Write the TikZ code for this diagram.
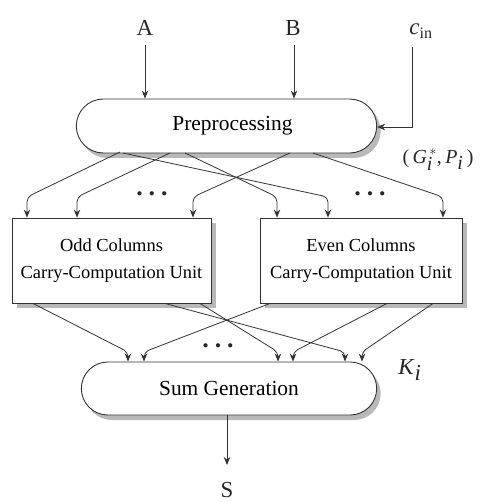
\documentclass[tikz,border=0pt]{standalone}
\usepackage{fontspec}
\setmainfont{Liberation Serif}
\usetikzlibrary{arrows.meta,shapes.misc,shadows}
\begin{document}
\begin{tikzpicture}[x=1bp,y=-1bp,
  pill/.style={rounded rectangle,draw=black!80,line width=0.9bp,fill=white,
    drop shadow={shadow xshift=4bp,shadow yshift=-5bp,fill=black!35,opacity=0.8}},
  unitbox/.style={rectangle,draw=black!80,line width=0.9bp,fill=white,align=center,
    drop shadow={shadow xshift=5bp,shadow yshift=-5bp,fill=black!35,opacity=0.8},
    font=\fontsize{18.5}{27}\selectfont},
  arr/.style={draw=black!80,line width=0.8bp,-{Stealth[length=8bp,width=6.5bp]}},
  bentarr/.style={arr,rounded corners=5bp},
  lbl/.style={text=black!85,inner sep=0pt},
  dotsl/.style={text=black!85,inner sep=0pt,font=\bfseries\fontsize{26}{26}\selectfont}]
\useasboundingbox (0,0) rectangle (486,502);

% main blocks
\node[pill,minimum width=307bp,minimum height=54bp,font=\fontsize{21.5}{24}\selectfont]
  (pre) at (226.5,126) {\hspace{12bp}Preprocessing};
\node[unitbox,minimum width=199bp,minimum height=85bp] (odd) at (111.5,260.5)
  {Odd Columns\\Carry-Computation Unit};
\node[unitbox,minimum width=202bp,minimum height=85bp] (even) at (361,260.5)
  {Even Columns\\Carry-Computation Unit};
\node[pill,minimum width=302bp,minimum height=53bp,font=\fontsize{21.5}{24}\selectfont]
  (sum) at (229,388.5) {Sum Generation};

% labels
\node[lbl,font=\fontsize{23}{23}\selectfont] (A) at (145,28) {A};
\node[lbl,font=\fontsize{23}{23}\selectfont] (B) at (293,28) {B};
\node[lbl,font=\fontsize{23}{23}\selectfont] (cin) at (421,31) {\textit{c}\textsubscript{in}};
\node[lbl,font=\fontsize{20}{20}\selectfont] (gp) at (438,160)
  {(\,\textit{G}$_{\textit{i}}^{\,*}$,\,\textit{P}$_{\textit{i}}$\,)};
\node[lbl,font=\fontsize{23}{23}\selectfont] (K) at (410,370) {\textit{K}$_{\textit{i}}$};
\node[lbl,font=\fontsize{23}{23}\selectfont] (S) at (227,490) {S};
\node[dotsl] (d1) at (152,194) {.\hspace{6bp}.\hspace{6bp}.};
\node[dotsl] (d2) at (370,194) {.\hspace{6bp}.\hspace{6bp}.};
\node[dotsl] (d3) at (218,346) {.\hspace{6bp}.\hspace{6bp}.};

% inputs
\coordinate (a0) at (145,45);
\coordinate (b0) at (294,45);
\coordinate (c0) at (412,47);
\coordinate (c1) at (412,127);
\draw[arr] (a0) -- (a0 |- pre.north);
\draw[arr] (b0) -- (b0 |- pre.north);
\draw[arr] (c0) -- (c1) -- (pre.east |- c1);

% preprocessing to units
\coordinate (p1) at (120,152);
\coordinate (p2) at (170,153);
\coordinate (p3) at (290,153);
\coordinate (p4) at (185,153);
\coordinate (p5) at (123,153);
\coordinate (p6) at (313,153);
\coordinate (t1) at (27,197);
\coordinate (t2) at (77,197);
\coordinate (t3) at (193,197);
\coordinate (t4) at (277,197);
\coordinate (t5) at (328,197);
\coordinate (t6) at (443,197);
\draw[bentarr] (p1) -- (t1) -- (t1 |- odd.north);
\draw[bentarr] (p2) -- (t2) -- (t2 |- odd.north);
\draw[bentarr] (p3) -- (t3) -- (t3 |- odd.north);
\draw[bentarr] (p4) -- (t4) -- (t4 |- even.north);
\draw[bentarr] (p5) -- (t5) -- (t5 |- even.north);
\draw[bentarr] (p6) -- (t6) -- (t6 |- even.north);

% units to sum generation
\coordinate (o1) at (33,303);
\coordinate (o2) at (200,303);
\coordinate (o3) at (165,303);
\coordinate (e1) at (270,303);
\coordinate (e2) at (387,303);
\coordinate (e3) at (433,303);
\coordinate (s1) at (128,352);
\coordinate (s2) at (144,352);
\coordinate (s3) at (278,352);
\coordinate (s4) at (293,352);
\coordinate (s5) at (345,352);
\coordinate (s6) at (362,352);
\draw[bentarr] (o1 |- odd.south) -- (s1) -- (s1 |- sum.north);
\draw[bentarr] (e1 |- even.south) -- (s2) -- (s2 |- sum.north);
\draw[bentarr] (o2 |- odd.south) -- (s3) -- (s3 |- sum.north);
\draw[bentarr] (e2 |- even.south) -- (s4) -- (s4 |- sum.north);
\draw[bentarr] (o3 |- odd.south) -- (s5) -- (s5 |- sum.north);
\draw[bentarr] (e3 |- even.south) -- (s6) -- (s6 |- sum.north);

% output
\coordinate (sout) at (227,465);
\draw[arr] (sum.south -| sout) -- (sout);
\end{tikzpicture}
\end{document}
